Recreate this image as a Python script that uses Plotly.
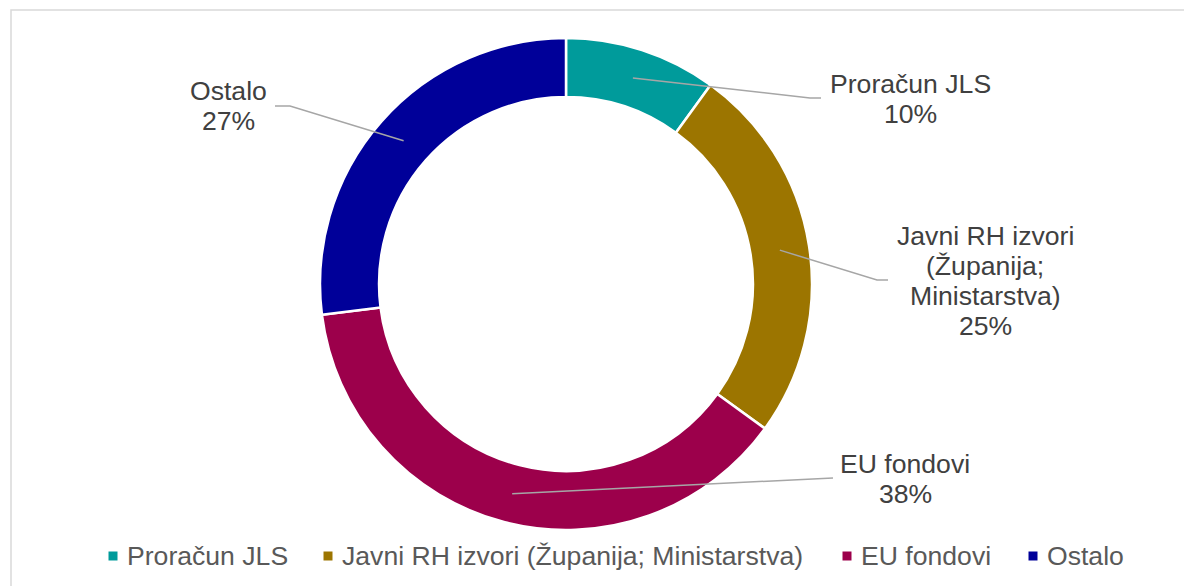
import math
import plotly.graph_objects as go

W, H = 1192, 586
OFF = 8  # page body margin in the browser

categories = ["Proračun JLS", "Javni RH izvori (Županija; Ministarstva)", "EU fondovi", "Ostalo"]
values = [10, 25, 38, 27]
colors = ["#009B9B", "#9C7500", "#9C004B", "#000099"]
label_lines = [
    ["Proračun JLS"],
    ["Javni RH izvori", "(Županija;", "Ministarstva)"],
    ["EU fondovi"],
    ["Ostalo"],
]

# layout (screen pixels)
CX, CY, R_OUT = 566, 284, 246
HOLE = 0.76
R_MID = R_OUT * (1 + HOLE) / 2
label_pos = [(910, 84), (985, 236), (905, 464), (228, 91)]
elbows = [[(810, 98), (821, 98)], [(877, 280), (888, 280)], [(833, 478)], [(290, 106), (275, 106)]]
LINE_H = 30
legend_marker_x = [113, 328, 847, 1033]
LEGEND_Y = 556
FONT = "Liberation Sans, Arial"
FS = 26.6

def px(x):
    return (x - OFF) / W

def py(y):
    return 1 - (y - OFF) / H

fig = go.Figure()
fig.add_trace(go.Pie(
    labels=categories, values=values, hole=HOLE, sort=False, direction="clockwise",
    rotation=0, marker=dict(colors=colors, line=dict(color="white", width=2.5)),
    textinfo="none", hoverinfo="label+percent", showlegend=False,
    domain=dict(x=[px(CX - R_OUT), px(CX + R_OUT)], y=[py(CY + R_OUT), py(CY - R_OUT)]),
))

shapes = []
annotations = []
total = sum(values)
cum = 0
for i, v in enumerate(values):
    mid = (cum + v / 2) / total * 2 * math.pi
    cum += v
    sx = CX + R_MID * math.sin(mid)
    sy = CY - R_MID * math.cos(mid)
    pts = [(sx, sy)] + elbows[i]
    path = "M " + " L ".join(f"{px(x)},{py(y)}" for x, y in pts)
    shapes.append(dict(type="path", xref="paper", yref="paper", path=path,
                       line=dict(color="#A6A6A6", width=1.5)))
    pct = round(v / total * 100)
    lines = label_lines[i] + [f"{pct}%"]
    lx, ly = label_pos[i]
    for j, t in enumerate(lines):
        annotations.append(dict(x=px(lx), y=py(ly + j * LINE_H), xref="paper", yref="paper",
                                text=t, showarrow=False, xanchor="center", yanchor="middle",
                                font=dict(size=FS, color="#404040", family=FONT)))

# legend
for i, name in enumerate(categories):
    mx = legend_marker_x[i]
    shapes.append(dict(type="rect", xref="paper", yref="paper",
                       x0=px(mx - 4.5), x1=px(mx + 4.5), y0=py(LEGEND_Y + 4.5), y1=py(LEGEND_Y - 4.5),
                       line=dict(width=0), fillcolor=colors[i]))
    annotations.append(dict(x=px(mx + 12), y=py(LEGEND_Y), xref="paper", yref="paper",
                            text=name, showarrow=False, xanchor="left", yanchor="middle",
                            font=dict(size=FS, color="#595959", family=FONT)))

shapes.append(dict(type="rect", xref="paper", yref="paper", x0=px(11), x1=1.05, y0=-0.05, y1=py(10),
                   line=dict(color="#D9D9D9", width=1.5), fillcolor="rgba(0,0,0,0)"))

fig.update_layout(
    width=W, height=H, autosize=False,
    margin=dict(l=0, r=0, t=0, b=0),
    paper_bgcolor="white", plot_bgcolor="white",
    font=dict(family=FONT, color="#595959", size=FS),
    shapes=shapes, annotations=annotations,
    showlegend=False,
)

fig.write_html("out.html")
